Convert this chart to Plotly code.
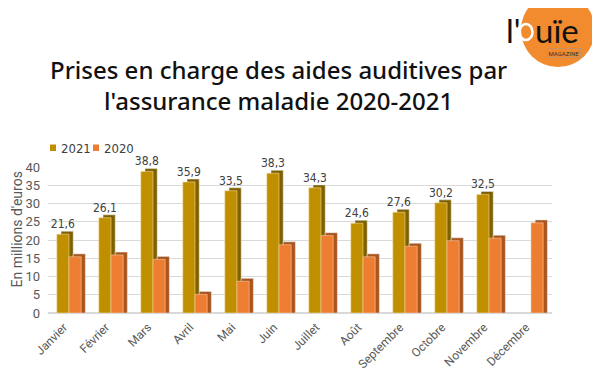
import plotly.graph_objects as go

months = ["Janvier", "Février", "Mars", "Avril", "Mai", "Juin", "Juillet", "Août",
          "Septembre", "Octobre", "Novembre", "Décembre"]
v2021 = [21.6, 26.1, 38.8, 35.9, 33.5, 38.3, 34.3, 24.6, 27.6, 30.2, 32.5, None]
v2020 = [15.4, 15.9, 14.7, 5.1, 8.7, 18.7, 21.2, 15.4, 18.3, 19.8, 20.5, 24.7]
yticks = [0, 5, 10, 15, 20, 25, 30, 35, 40]

GOLD, GOLD_D = "#BF8F00", "#7F6000"
ORNG, ORNG_D = "#ED7D31", "#A9561E"
DEPTH = 0.8
W = 0.29

# page has an 8px body margin: figure is drawn from (8, 8)
OFF = 8
FW, FH = 600 - OFF, 384 - OFF
# plot area in page pixels
PL, PR, PT, PB = 48, 552, 167, 313
def px_x(px):
    return (px - PL) / (PR - PL)
def px_y(py):
    return (PB - py) / (PB - PT)

def lift(vals):
    return [None if v is None else v + DEPTH for v in vals]

x = list(range(len(months)))
fig = go.Figure()
fig.add_bar(x=x, y=lift(v2021), offset=-W + 0.1, width=W, marker_color=GOLD_D,
            showlegend=False, hoverinfo="skip")
fig.add_bar(x=x, y=v2021, offset=-W, width=W, name="2021", marker_color=GOLD,
            marker_line=dict(color="#F2DCA0", width=0.6),
            text=[None if v is None else f"{v:.1f}".replace(".", ",") for v in v2021],
            textposition="outside", constraintext="none",
            textfont=dict(size=12, color="#404040",
                          family="DejaVu Sans Condensed, Liberation Sans Narrow, Roboto, sans-serif"),
            cliponaxis=False)
fig.add_bar(x=x, y=lift(v2020), offset=0.1, width=W, marker_color=ORNG_D,
            showlegend=False, hoverinfo="skip")
fig.add_bar(x=x, y=v2020, offset=0, width=W, name="2020", marker_color=ORNG,
            marker_line=dict(color="#F8C9A8", width=0.6))

fig.update_layout(
    width=FW, height=FH,
    barmode="overlay",
    paper_bgcolor="white", plot_bgcolor="white",
    margin=dict(l=PL - OFF, r=600 - PR, t=PT - OFF, b=384 - PB, autoexpand=False),
    font=dict(family="Roboto, sans-serif", color="#595959"),
    showlegend=False,
)
fig.update_xaxes(tickmode="array", tickvals=x, ticktext=months, tickangle=-45,
                 range=[-0.5, 11.5], showgrid=False, showline=False, zeroline=False,
                 ticklabelshift=-5, ticklabelstandoff=4,
                 tickfont=dict(size=12, color="#595959"))
fig.update_yaxes(range=[0, 40], tickvals=yticks, showgrid=True, gridcolor="#D9D9D9",
                 gridwidth=1, zeroline=True, zerolinecolor="#D9D9D9", showline=False,
                 ticklabelstandoff=7,
                 tickfont=dict(size=13, color="#595959"))

# y-axis title
fig.add_annotation(xref="paper", yref="paper", x=px_x(16.5), y=px_y(230), textangle=-90,
                   xanchor="center", yanchor="middle", text="En millions d'euros", showarrow=False,
                   font=dict(size=14, color="#595959"))

# legend (series keys)
LF = dict(size=13, color="#404040", family="DejaVu Sans Condensed, Roboto, sans-serif")
for sx, col, name in [(50, GOLD, "2021"), (93, ORNG, "2020")]:
    fig.add_shape(type="rect", xref="paper", yref="paper",
                  x0=px_x(sx), x1=px_x(sx + 6), y0=px_y(151), y1=px_y(144.5),
                  fillcolor=col, line_width=0)
    fig.add_annotation(xref="paper", yref="paper", x=px_x(sx + 9), y=px_y(148),
                       xanchor="left", yanchor="middle", text=name, showarrow=False, font=LF)

# title
fig.add_annotation(xref="paper", yref="paper", x=px_x(278), y=px_y(85), yanchor="middle",
                   text="Prises en charge des aides auditives par<br>l'assurance maladie 2020-2021",
                   showarrow=False,
                   font=dict(size=24, color="#111111", family="Noto Sans, sans-serif", weight=500))

# logo
fig.add_shape(type="circle", xref="paper", yref="paper",
              x0=px_x(521), x1=px_x(595), y0=px_y(67), y1=px_y(-7),
              fillcolor="#F28A2E", line_width=0, layer="below")
fig.add_shape(type="circle", xref="paper", yref="paper",
              x0=px_x(519.5), x1=px_x(532.5), y0=px_y(40), y1=px_y(24),
              fillcolor="rgba(0,0,0,0)", line=dict(color="#FFFFFF", width=2.6))
LOGO = dict(size=33, family="Lato, sans-serif", color="#111111")
fig.add_annotation(xref="paper", yref="paper", x=px_x(505), y=px_y(8.5), xanchor="left",
                   yanchor="top", text="l'", showarrow=False, borderpad=0, font=LOGO)
fig.add_annotation(xref="paper", yref="paper", x=px_x(534), y=px_y(8.5), xanchor="left",
                   yanchor="top", text="uïe", showarrow=False, borderpad=0, font=LOGO)
fig.add_annotation(xref="paper", yref="paper", x=px_x(581), y=px_y(53),
                   text="MAGAZINE", showarrow=False, bordercolor="#999", borderwidth=0.5, borderpad=1,
                   font=dict(size=6, color="#333", family="Roboto, sans-serif"), yanchor="middle")

fig.write_html("out.html")
